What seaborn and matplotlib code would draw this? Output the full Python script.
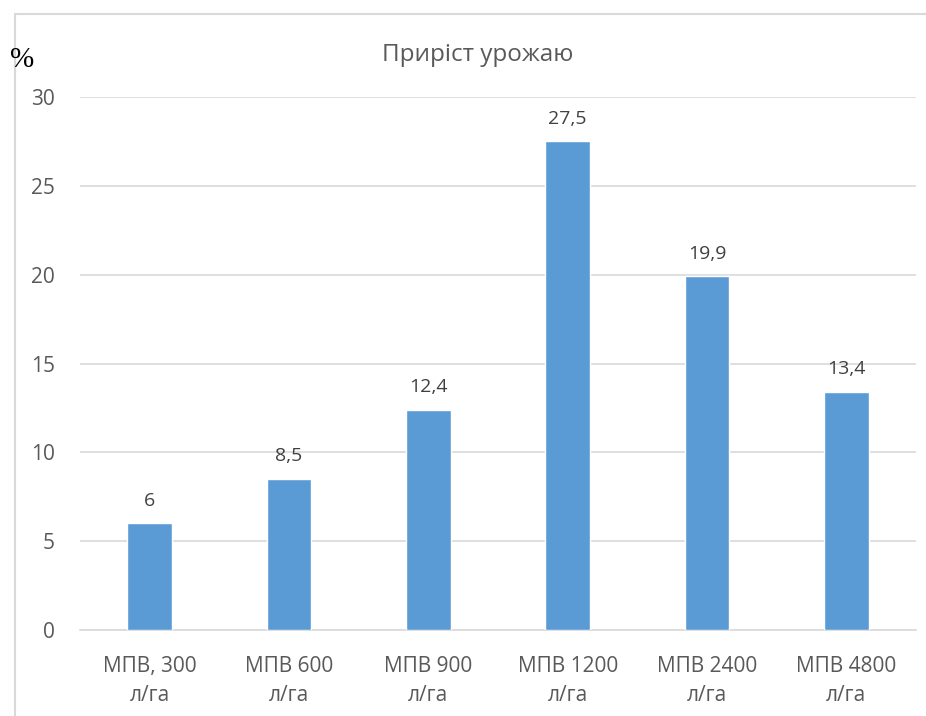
import matplotlib
matplotlib.use("Agg")
import matplotlib.pyplot as plt
import seaborn as sns
import pandas as pd
from matplotlib.lines import Line2D

categories = ["МПВ, 300\nл/га", "МПВ 600\nл/га", "МПВ 900\nл/га",
              "МПВ 1200\nл/га", "МПВ 2400\nл/га", "МПВ 4800\nл/га"]
values = [6, 8.5, 12.4, 27.5, 19.9, 13.4]
value_labels = ["6", "8,5", "12,4", "27,5", "19,9", "13,4"]
y_ticks = [0, 5, 10, 15, 20, 25, 30]

sns.set_theme(style="white")
plt.rcParams["font.family"] = ["Open Sans", "DejaVu Sans"]

W, H = 926, 716
fig = plt.figure(figsize=(W / 100, H / 100), dpi=100)
ax = fig.add_axes([80 / W, 1 - 630 / H, (916 - 80) / W, (630 - 97) / H])

df = pd.DataFrame({"cat": categories, "val": values})
sns.barplot(data=df, x="cat", y="val", color="#5B9BD5", saturation=1,
            width=0.32, ax=ax, zorder=3)

ax.set_xlim(-0.5, len(categories) - 0.5)
ax.set_ylim(0, 30)
ax.set_yticks(y_ticks)
ax.set_yticklabels([str(t) for t in y_ticks])
ax.yaxis.grid(True, color="#D9D9D9", linewidth=1.2, zorder=0)
ax.set_axisbelow(True)
for s in ["top", "right", "left"]:
    ax.spines[s].set_visible(False)
ax.spines["bottom"].set_color("#D9D9D9")
ax.spines["bottom"].set_linewidth(1.2)
ax.tick_params(axis="both", length=0, colors="#595959", labelsize=15)
ax.tick_params(axis="y", pad=18)
ax.tick_params(axis="x", pad=19)
ax.set_xlabel("")
ax.set_ylabel("")
for lbl in ax.get_xticklabels():
    lbl.set_linespacing(1.5)

for i, (v, t) in enumerate(zip(values, value_labels)):
    ax.annotate(t, (i, v), xytext=(0, 10), textcoords="offset points",
                ha="center", va="bottom", fontsize=14, color="#404040")

fig.text(478 / W, 1 - 55 / H, "Приріст урожаю", ha="center", va="center",
         fontsize=17.5, color="#595959")
fig.text(10 / W, 1 - 60 / H, "%", ha="left", va="center",
         fontsize=21, color="black", family="Liberation Serif")

# outer chart frame
fig.add_artist(Line2D([15 / W, 1], [1 - 14 / H, 1 - 14 / H],
                      transform=fig.transFigure, color="#D9D9D9", lw=1.5))
fig.add_artist(Line2D([15 / W, 15 / W], [0, 1 - 14 / H],
                      transform=fig.transFigure, color="#D9D9D9", lw=1.5))

fig.savefig("out.png", dpi=100, facecolor="white")
